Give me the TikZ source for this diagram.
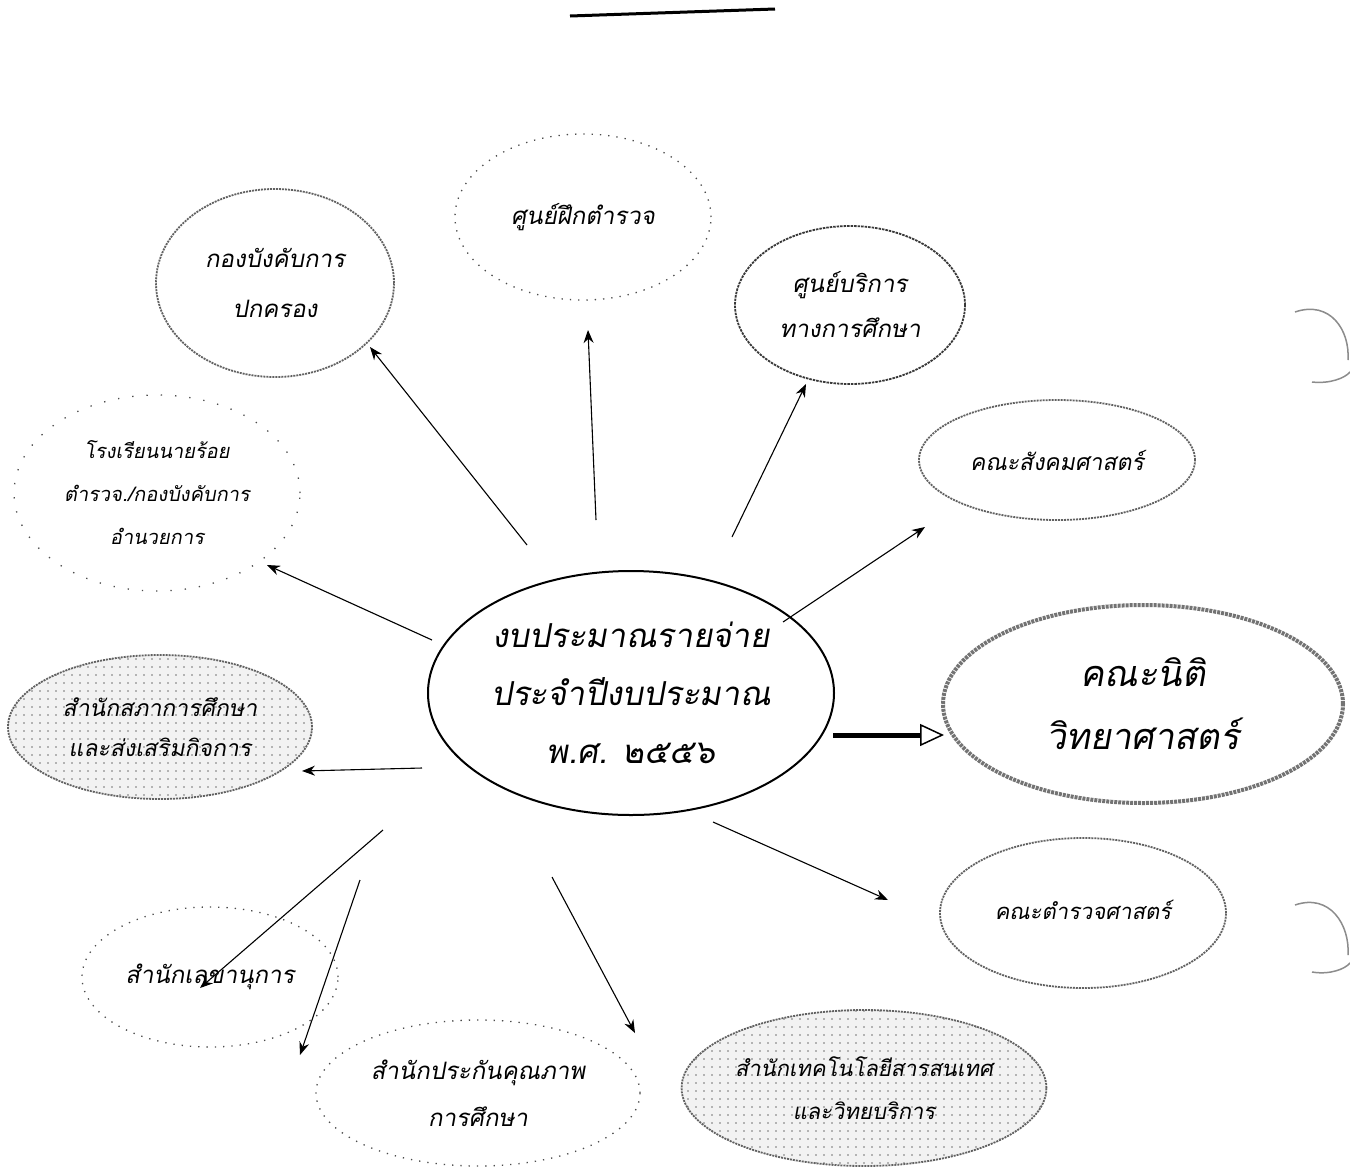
\documentclass[tikz,border=0pt]{standalone}
\usepackage{fontspec}
\newfontfamily\thaifont[Script=Thai, FakeSlant=0.18]{Loma}
\usetikzlibrary{shapes.geometric, arrows.meta, patterns.meta}
\tikzset{
  ell/.style={ellipse, inner sep=0pt, align=center, text=black},
  dense/.style={draw=black!62, line width=1.8pt, dash pattern=on 2pt off 1pt},
  densedark/.style={draw=black!78, line width=1.8pt, dash pattern=on 2.5pt off 1pt},
  sparse/.style={draw=black!70, line width=1.3pt, dash pattern=on 1.3pt off 7pt},
  vsparse/.style={draw=black!70, line width=1.3pt, dash pattern=on 1.3pt off 13pt},
  stipple/.style={preaction={fill=black!5}, pattern={Dots[distance=8pt, radius=0.8pt]}, pattern color=black!55},
  arr/.style={draw=black, line width=1.1pt, -{Stealth[length=13pt, width=10pt]}},
}
\begin{document}
\begin{tikzpicture}[x=1pt, y=-1pt]
\useasboundingbox (0,0) rectangle (1350,1171);
\fill[white] (0,0) rectangle (1350,1171);

% top rule
\draw[line width=3pt] (570,16) -- (775,9);

% centre
\node[ell, draw=black, line width=2pt, minimum width=406, minimum height=244,
      font=\thaifont\fontsize{33}{58}\selectfont] (c) at (631,693)
  {งบประมาณรายจ่าย\\ประจำปีงบประมาณ\\พ.ศ. ๒๕๕๖};

% satellites
\node[ell, dense, minimum width=238, minimum height=188,
      font=\thaifont\fontsize{24}{50}\selectfont] (kb) at (275,283)
  {กองบังคับการ\\ปกครอง};
\node[ell, sparse, minimum width=256, minimum height=166,
      font=\thaifont\fontsize{24}{48}\selectfont] (sf) at (583,217)
  {ศูนย์ฝึกตำรวจ};
\node[ell, densedark, minimum width=230, minimum height=158,
      font=\thaifont\fontsize{24}{45}\selectfont] (sb) at (850,305)
  {ศูนย์บริการ\\ทางการศึกษา};
\node[ell, dense, minimum width=276, minimum height=120,
      font=\thaifont\fontsize{23}{45}\selectfont] (ks) at (1057,460)
  {คณะสังคมศาสตร์};
\node[ell, draw=black!55, line width=4pt, dash pattern=on 3pt off 1pt, minimum width=400, minimum height=198,
      font=\thaifont\fontsize{36}{63}\selectfont] (kn) at (1143,704)
  {คณะนิติ\\วิทยาศาสตร์};
\node[ell, dense, minimum width=286, minimum height=150,
      font=\thaifont\fontsize{22}{45}\selectfont] (kt) at (1083,913)
  {\raisebox{6pt}{คณะตำรวจศาสตร์}};
\node[ell, dense, stipple, minimum width=344, minimum height=156,
      font=\thaifont\fontsize{22}{43}\selectfont] (it) at (864,1088)
  {สำนักเทคโนโลยีสารสนเทศ\\และวิทยบริการ};
\node[ell, sparse, minimum width=324, minimum height=146,
      font=\thaifont\fontsize{24}{47}\selectfont] (qa) at (478,1093)
  {สำนักประกันคุณภาพ\\การศึกษา};
\node[ell, sparse, minimum width=256, minimum height=140,
      font=\thaifont\fontsize{24}{45}\selectfont] (sec) at (210,977)
  {สำนักเลขานุการ};
\node[ell, dense, stipple, minimum width=304, minimum height=144,
      font=\thaifont\fontsize{23}{40}\selectfont] (sp) at (160,727)
  {สำนักสภาการศึกษา\\และส่งเสริมกิจการ};
\node[ell, vsparse, minimum width=286, minimum height=196,
      font=\thaifont\fontsize{20}{43}\selectfont] (rr) at (157,493)
  {โรงเรียนนายร้อย\\ตำรวจ./กองบังคับการ\\อำนวยการ};

% connector end points
\coordinate (s1) at (527,545);  \coordinate (e1) at (370,347);
\coordinate (s2) at (596,520);  \coordinate (e2) at (588,330);
\coordinate (s3) at (732,537);  \coordinate (e3) at (806,384);
\coordinate (s4) at (783,622);  \coordinate (e4) at (925,527);
\coordinate (s5) at (833,735);  \coordinate (e5) at (944,735);
\coordinate (s6) at (713,822);  \coordinate (e6) at (888,900);
\coordinate (s7) at (552,877);  \coordinate (e7) at (635,1033);
\coordinate (s8) at (360,880);  \coordinate (e8) at (300,1055);
\coordinate (s9) at (383,830);  \coordinate (e9) at (200,988);
\coordinate (s10) at (422,768); \coordinate (e10) at (302,771);
\coordinate (s11) at (432,640); \coordinate (e11) at (267,565);

\draw[arr] (s1) -- (e1);
\draw[arr] (s2) -- (e2);
\draw[arr] (s3) -- (e3);
\draw[arr] (s4) -- (e4);
\draw[line width=5pt, -{Triangle[open, length=24pt, width=22pt, line width=1.5pt]}] (s5) -- (e5);
\draw[arr] (s6) -- (e6);
\draw[arr] (s7) -- (e7);
\draw[arr] (s8) -- (e8);
\draw[arr] (s9) -- (e9);
\draw[arr] (s10) -- (e10);
\draw[arr] (s11) -- (e11);

% scan marks at the right edge
\draw[black!45, line width=1.5pt] (1295,312) .. controls (1330,300) and (1350,330) .. (1348,360);
\draw[black!45, line width=1.5pt] (1312,382) .. controls (1330,384) and (1345,378) .. (1350,372);
\draw[black!45, line width=1.5pt] (1295,905) .. controls (1330,893) and (1350,925) .. (1348,955);
\draw[black!45, line width=1.5pt] (1312,972) .. controls (1330,975) and (1345,969) .. (1350,963);
\end{tikzpicture}
\end{document}
